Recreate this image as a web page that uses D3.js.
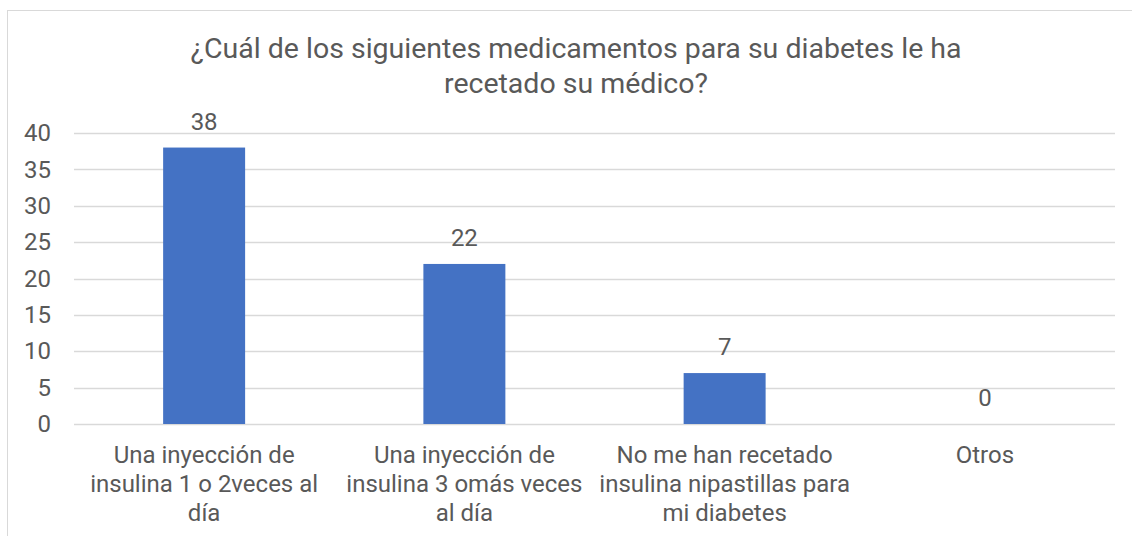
<!DOCTYPE html>
<html>
<head>
<meta charset="utf-8">
<script src="https://cdn.jsdelivr.net/npm/d3@7"></script>
<style>
  body { margin: 0; background: #fff; }
  text { font-family: Roboto, "Noto Sans", sans-serif; fill: #595959; }
</style>
</head>
<body>
<div id="chart-area"></div>
<script>
// data
var categories = ["c1", "c2", "c3", "c4"];
var categoryLines = [
  ["Una inyección de", "insulina 1 o 2veces al", "día"],
  ["Una inyección de", "insulina 3 omás veces", "al día"],
  ["No me han recetado", "insulina nipastillas para", "mi diabetes"],
  ["Otros"]
];
var values = [38, 22, 7, 0];
var yTicks = [0, 5, 10, 15, 20, 25, 30, 35, 40];
var titleLines = ["¿Cuál de los siguientes medicamentos para su diabetes le ha", "recetado su médico?"];

var width = 1132, height = 536;
var margin = {left: 74, right: 17, top: 133, bottom: 112};
var chartWidth = width - margin.left - margin.right;
var chartHeight = height - margin.top - margin.bottom;

var svg = d3.select("#chart-area").append("svg").attr("width", width).attr("height", height);

// outer border of the chart box
svg.append("rect").attr("x", 7.5).attr("y", 10.5).attr("width", 1140).attr("height", 560)
  .attr("fill", "none").attr("stroke", "#d9d9d9").attr("stroke-width", 1);

var title = svg.append("text").attr("text-anchor", "middle").attr("font-size", "28.5px");
titleLines.forEach(function(l, i) {
  title.append("tspan").attr("x", 576).attr("y", 58 + i * 35).text(l);
});

var graph = svg.append("g").attr("transform", "translate(" + margin.left + "," + margin.top + ")");

var x = d3.scaleBand().domain(categories).range([0, chartWidth]).paddingInner(0.685).paddingOuter(0.3425);
var y = d3.scaleLinear().domain([0, 40]).range([chartHeight, 0]);

// gridlines
graph.append("g").selectAll("line").data(yTicks).enter().append("line")
  .attr("x1", 0).attr("x2", chartWidth)
  .attr("y1", function(d) { return Math.round(y(d)) + 0.5; })
  .attr("y2", function(d) { return Math.round(y(d)) + 0.5; })
  .attr("stroke", "#d9d9d9").attr("stroke-width", 1.3);

var yAxis = d3.axisLeft(y).tickValues(yTicks).tickSize(0).tickPadding(23);
var yAxisGroup = graph.append("g").call(yAxis);
yAxisGroup.select(".domain").remove();
yAxisGroup.selectAll("text").attr("font-size", "24px").attr("fill", "#595959").attr("font-family", "Roboto");

graph.selectAll("rect.bar").data(values).enter().append("rect").attr("class", "bar")
  .attr("x", function(d, i) { return x(categories[i]); })
  .attr("y", function(d) { return y(d); })
  .attr("width", x.bandwidth())
  .attr("height", function(d) { return chartHeight - y(d); })
  .attr("fill", "#4472c4");

graph.selectAll("text.value").data(values).enter().append("text").attr("class", "value")
  .attr("x", function(d, i) { return x(categories[i]) + x.bandwidth() / 2; })
  .attr("y", function(d) { return y(d) - 18; })
  .attr("text-anchor", "middle").attr("font-size", "24px")
  .text(function(d) { return d; });

// category labels, wrapped as in the picture
var xAxis = d3.axisBottom(x).tickSize(0).tickFormat("");
var xAxisGroup = graph.append("g").attr("transform", "translate(0," + chartHeight + ")").call(xAxis);
xAxisGroup.select(".domain").remove();
xAxisGroup.selectAll(".tick").each(function(d, i) {
  var t = d3.select(this).append("text").attr("text-anchor", "middle").attr("font-size", "24px");
  categoryLines[i].forEach(function(l, j) {
    t.append("tspan").attr("x", 0).attr("y", 39 + j * 29).text(l);
  });
});
</script>
</body>
</html>
